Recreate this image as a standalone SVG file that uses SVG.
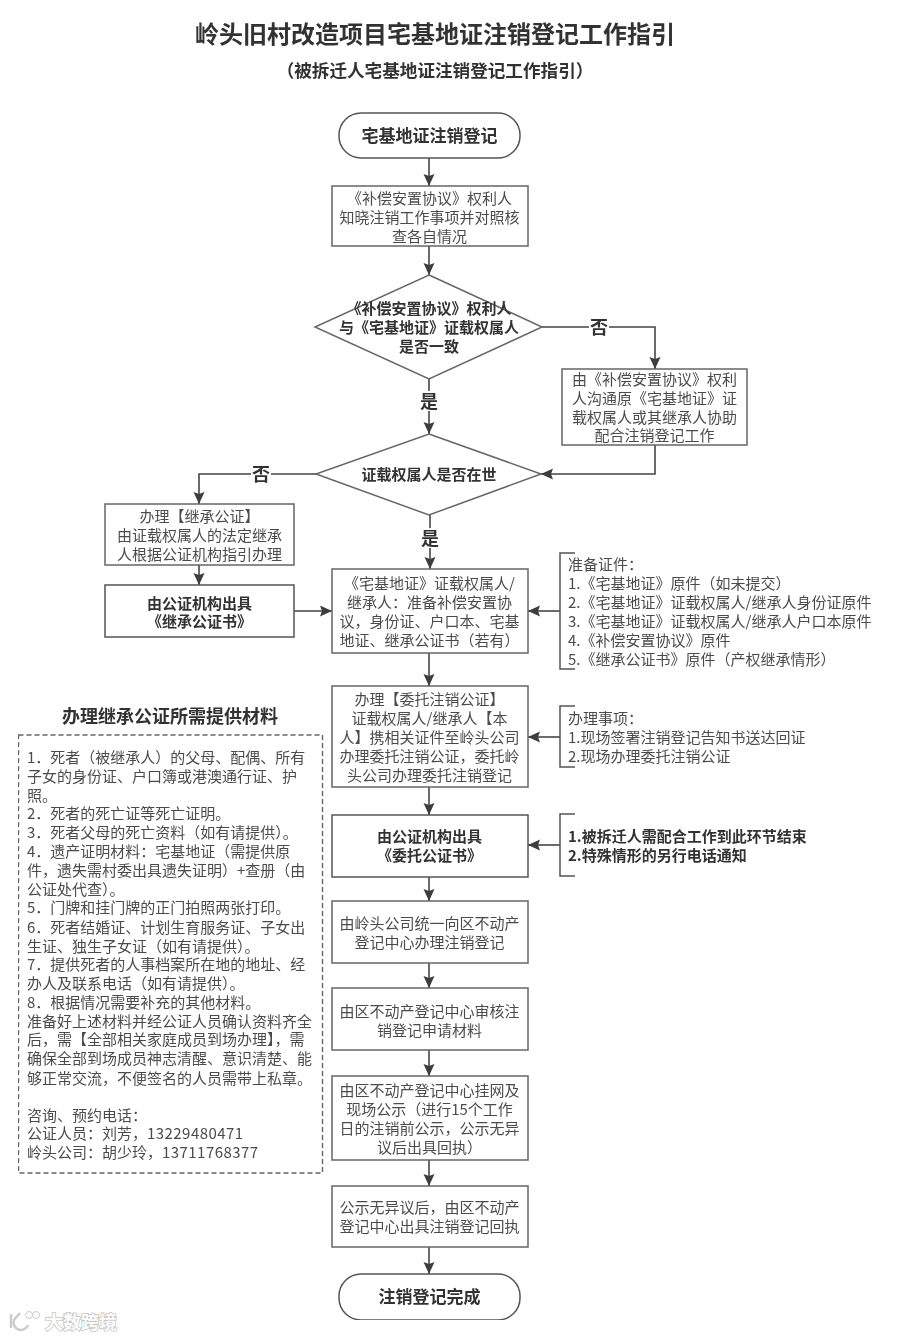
<svg xmlns="http://www.w3.org/2000/svg" width="900" height="1338" viewBox="0 0 900 1338">
<defs>
<marker id="ah" markerWidth="13" markerHeight="12" refX="12" refY="5.500" orient="auto" markerUnits="userSpaceOnUse"><path d="M0,0 L12,5.500 L0,11 L2,5.500 Z" fill="#3c3c3c"/></marker>
<filter id="soft" x="0" y="0" width="100%" height="100%"><feGaussianBlur stdDeviation="0.35"/></filter>
</defs>
<style>
text{font-family:"Noto Sans CJK SC","Noto Sans",sans-serif;font-size:15px;fill:#4c4c4c}
.c{text-anchor:middle}
.b{font-weight:700;fill:#333}
.t{font-size:17px}
.lab{font-size:18px;font-weight:700;fill:#333;text-anchor:middle}
.n{fill:#fff;stroke:#666;stroke-width:1.5}
.k{fill:#fff;stroke:#555;stroke-width:1.5}
#connectors path{fill:none;stroke:#444;stroke-width:1.6}
.a{marker-end:url(#ah)}
.br{fill:none;stroke:#555;stroke-width:1.5}
.d{letter-spacing:.45px}
.wm{font-size:18px;fill:#fff;stroke:#c4c4c4;stroke-width:1.6px;paint-order:stroke;font-weight:700}
</style>
<rect width="900" height="1338" fill="#fff"/>
<g filter="url(#soft)">
<g id="title">
<text class="c b" x="435" y="43" style="font-size:24px">岭头旧村改造项目宅基地证注销登记工作指引</text>
<text class="c b" x="435" y="77" style="font-size:17.600px">（被拆迁人宅基地证注销登记工作指引）</text>
</g>
<g id="connectors">
<path class="a" d="M429,158V186"/>
<path class="a" d="M429,246V275"/>
<path d="M542,327H589"/>
<path class="a" d="M609,327H655V369"/>
<path d="M429,379V391"/>
<path class="a" d="M429,411V434"/>
<path class="a" d="M655,445V474H541"/>
<path d="M316,474H271"/>
<path class="a" d="M251,474H199V504"/>
<path d="M430,515V528"/>
<path class="a" d="M430,548V569"/>
<path class="a" d="M199,565V585"/>
<path class="a" d="M294,611H332"/>
<path class="a" d="M560,611H528"/>
<path class="a" d="M560,737H528"/>
<path class="a" d="M560,845H528"/>
<path class="a" d="M429,653V686"/>
<path class="a" d="M429,787V815"/>
<path class="a" d="M429,877V901"/>
<path class="a" d="M429,963V988"/>
<path class="a" d="M429,1050V1076"/>
<path class="a" d="M429,1160V1186"/>
<path class="a" d="M429,1247V1274"/>
</g>
<g id="edge-labels">
<text class="lab" x="599" y="334">否</text>
<text class="lab" x="429" y="408">是</text>
<text class="lab" x="261" y="481">否</text>
<text class="lab" x="430" y="545">是</text>
</g>
<g id="n-start"><rect class="k" x="339" y="113" width="181" height="45" rx="22"/><text class="c b t" x="429.500" y="142">宅基地证注销登记</text></g>
<g id="n-notify"><rect class="n" x="332" y="186" width="196" height="60"/><text class="c" x="429.500"><tspan x="429.500" y="204">《补偿安置协议》权利人</tspan><tspan x="429.500" y="222.500">知晓注销工作事项并对照核</tspan><tspan x="429.500" y="241.500">查各自情况</tspan></text></g>
<g id="n-d1"><path class="n" d="M429,275L542,327L429,379L315,327Z"/><text class="c b"><tspan x="429" y="313.500">《补偿安置协议》权利人</tspan><tspan x="429" y="332.500">与《宅基地证》证载权属人</tspan><tspan x="429" y="351.500">是否一致</tspan></text></g>
<g id="n-contact"><rect class="n" x="562" y="369" width="185" height="76"/><text class="c"><tspan x="654.500" y="384.500">由《补偿安置协议》权利</tspan><tspan x="654.500" y="403.500">人沟通原《宅基地证》证</tspan><tspan x="654.500" y="422.500">载权属人或其继承人协助</tspan><tspan x="654.500" y="441">配合注销登记工作</tspan></text></g>
<g id="n-d2"><path class="n" d="M429,434L541,474L429,515L316,474Z"/><text class="c b" x="429" y="480">证载权属人是否在世</text></g>
<g id="n-inherit"><rect class="n" x="105" y="504" width="189" height="61"/><text class="c"><tspan x="199.500" y="521.500">办理【继承公证】</tspan><tspan x="199.500" y="540.500">由证载权属人的法定继承</tspan><tspan x="199.500" y="559.500">人根据公证机构指引办理</tspan></text></g>
<g id="n-inherit-cert"><rect class="k" x="105" y="585" width="189" height="52"/><text class="c b"><tspan x="199.500" y="608.500">由公证机构出具</tspan><tspan x="199.500" y="627">《继承公证书》</tspan></text></g>
<g id="n-prepare"><rect class="n" x="332" y="569" width="196" height="84"/><text class="c"><tspan x="429.500" y="588.500">《宅基地证》证载权属人/</tspan><tspan x="429.500" y="608">继承人：准备补偿安置协</tspan><tspan x="429.500" y="626.500">议，身份证、户口本、宅基</tspan><tspan x="429.500" y="645.500">地证、继承公证书（若有）</tspan></text></g>
<g id="n-docs"><path class="br" d="M575,553H560V669H575"/><text><tspan x="568" y="569.500">准备证件：</tspan><tspan x="568" y="588.500">1.《宅基地证》原件（如未提交）</tspan><tspan x="568" y="607.500">2.《宅基地证》证载权属人/继承人身份证原件</tspan><tspan x="568" y="626.500">3.《宅基地证》证载权属人/继承人户口本原件</tspan><tspan x="568" y="645.500">4.《补偿安置协议》原件</tspan><tspan x="568" y="664.500">5.《继承公证书》原件（产权继承情形）</tspan></text></g>
<g id="n-entrust"><rect class="n" x="332" y="686" width="196" height="101"/><text class="c"><tspan x="429.500" y="704.500">办理【委托注销公证】</tspan><tspan x="429.500" y="723.500">证载权属人/继承人【本</tspan><tspan x="429.500" y="742.500">人】携相关证件至岭头公司</tspan><tspan x="429.500" y="761.500">办理委托注销公证，委托岭</tspan><tspan x="429.500" y="780.500">头公司办理委托注销登记</tspan></text></g>
<g id="n-items"><path class="br" d="M575,706H560V767H575"/><text><tspan x="568" y="723.500">办理事项：</tspan><tspan x="568" y="742.500">1.现场签署注销登记告知书送达回证</tspan><tspan x="568" y="761.500">2.现场办理委托注销公证</tspan></text></g>
<g id="n-entrust-cert"><rect class="k" x="332" y="815" width="196" height="62"/><text class="c b"><tspan x="429.500" y="841.500">由公证机构出具</tspan><tspan x="429.500" y="860.500">《委托公证书》</tspan></text></g>
<g id="n-note"><path class="br" d="M575,814H560V876H575"/><text class="b"><tspan x="568" y="841.500">1.被拆迁人需配合工作到此环节结束</tspan><tspan x="568" y="860.500">2.特殊情形的另行电话通知</tspan></text></g>
<g id="n-apply"><rect class="n" x="332" y="901" width="196" height="62"/><text class="c"><tspan x="429.500" y="928.500">由岭头公司统一向区不动产</tspan><tspan x="429.500" y="947.500">登记中心办理注销登记</tspan></text></g>
<g id="n-review"><rect class="n" x="332" y="988" width="196" height="62"/><text class="c"><tspan x="429.500" y="1016.500">由区不动产登记中心审核注</tspan><tspan x="429.500" y="1035.500">销登记申请材料</tspan></text></g>
<g id="n-publish"><rect class="n" x="332" y="1076" width="196" height="84"/><text class="c"><tspan x="429.500" y="1095.500">由区不动产登记中心挂网及</tspan><tspan x="429.500" y="1114.500">现场公示（进行15个工作</tspan><tspan x="429.500" y="1133.500">日的注销前公示，公示无异</tspan><tspan x="429.500" y="1152.500">议后出具回执）</tspan></text></g>
<g id="n-receipt"><rect class="n" x="332" y="1186" width="196" height="61"/><text class="c"><tspan x="429.500" y="1212.500">公示无异议后，由区不动产</tspan><tspan x="429.500" y="1231.500">登记中心出具注销登记回执</tspan></text></g>
<g id="n-end"><rect class="k" x="339" y="1274" width="181" height="46" rx="22"/><text class="c b t" x="429.500" y="1303">注销登记完成</text></g>
<g id="n-materials">
<text class="c b" x="170" y="723" style="font-size:18px">办理继承公证所需提供材料</text>
<rect x="18.500" y="735" width="304" height="438" fill="#fff" stroke="#666" stroke-width="1.4" stroke-dasharray="5 3"/>
<text>
<tspan x="27" y="762.500">1．死者（被继承人）的父母、配偶、所有</tspan>
<tspan x="27" y="781.500">子女的身份证、户口簿或港澳通行证、护</tspan>
<tspan x="27" y="800.500">照。</tspan>
<tspan x="27" y="819">2．死者的死亡证等死亡证明。</tspan>
<tspan x="27" y="838">3．死者父母的死亡资料（如有请提供）。</tspan>
<tspan x="27" y="857">4．遗产证明材料：宅基地证（需提供原</tspan>
<tspan x="27" y="875.500">件，遗失需村委出具遗失证明）+查册（由</tspan>
<tspan x="27" y="894.500">公证处代查）。</tspan>
<tspan x="27" y="913">5．门牌和挂门牌的正门拍照两张打印。</tspan>
<tspan x="27" y="932.500">6．死者结婚证、计划生育服务证、子女出</tspan>
<tspan x="27" y="951.500">生证、独生子女证（如有请提供）。</tspan>
<tspan x="27" y="970">7．提供死者的人事档案所在地的地址、经</tspan>
<tspan x="27" y="988.500">办人及联系电话（如有请提供）。</tspan>
<tspan x="27" y="1007.500">8．根据情况需要补充的其他材料。</tspan>
<tspan x="27" y="1026.500">准备好上述材料并经公证人员确认资料齐全</tspan>
<tspan x="27" y="1045">后，需【全部相关家庭成员到场办理】，需</tspan>
<tspan x="27" y="1064">确保全部到场成员神志清醒、意识清楚、能</tspan>
<tspan x="27" y="1083.500">够正常交流，不便签名的人员需带上私章。</tspan>
<tspan x="27" y="1120.500">咨询、预约电话：</tspan>
<tspan x="27" y="1139">公证人员：刘芳，<tspan class="d">13229480471</tspan></tspan>
<tspan x="27" y="1157.500">岭头公司：胡少玲，<tspan class="d">13711768377</tspan></tspan>
</text>
</g>
</g>
<g id="watermark">
<path d="M11,1314V1328" fill="none" stroke="#ccc" stroke-width="2.500"/>
<path d="M20,1313L14,1320A7,7 0 0 0 28,1325" fill="none" stroke="#ccc" stroke-width="2.500"/>
<circle cx="29" cy="1315" r="3.500" fill="#fff" stroke="#ccc"/><circle cx="36" cy="1315" r="3.500" fill="#fff" stroke="#ccc"/>
<text class="wm" x="45" y="1329">大数跨境</text>
</g>
</svg>
